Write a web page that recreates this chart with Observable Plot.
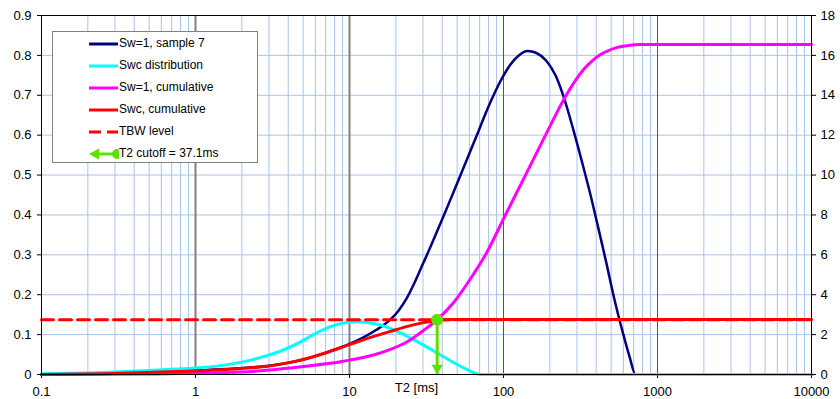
<!DOCTYPE html>
<html>
<head>
<meta charset="utf-8">
<script src="https://cdn.jsdelivr.net/npm/d3@7"></script>
<script src="https://cdn.jsdelivr.net/npm/@observablehq/plot@0.6"></script>
<style>
  body { margin: 0; background: #fff; font-family: "Liberation Sans", Arial, sans-serif; }
  #wrap { position: relative; width: 840px; height: 399px; }
  #legend { position: absolute; left: 52px; top: 31px; width: 206px; height: 132px; background: #fff; border: 1px solid #808080; box-sizing: border-box; }
  .lrow { position: absolute; left: 0; height: 22px; width: 205px; }
  .lrow svg { position: absolute; left: 30px; top: 0; }
  .lrow span { position: absolute; left: 66px; top: 3px; font-size: 12px; color: #000; white-space: nowrap; }
</style>
</head>
<body>
<div id="wrap"><div id="chart"></div><div id="legend"></div></div>
<script>
// ---- data ----
const xTicks = [0.1, 1, 10, 100, 1000, 10000];
const leftTicks = [0, 0.1, 0.2, 0.3, 0.4, 0.5, 0.6, 0.7, 0.8, 0.9];
const rightTicks = [0, 2, 4, 6, 8, 10, 12, 14, 16, 18];
const xLabel = "T2 [ms]";

const seriesNames = ["Sw=1, sample 7", "Swc distribution", "Sw=1, cumulative", "Swc, cumulative", "TBW level", "T2 cutoff = 37.1ms"];

// distributions (left axis)
const sample7T2 = [0.1, 0.2, 0.5, 1, 2, 3, 5, 7, 10, 12.15, 14.97, 18.46, 20.81, 23.45, 26.43, 29.79, 33.57, 37.84, 42.65, 48.06, 54.17, 61.05, 68.81, 77.55, 87.39, 98.51, 111, 125.1, 143.2, 163.8, 190.2, 217.6, 245.3, 284.8, 325.9, 372.8, 414, 466.6, 518, 592.6, 658, 719.6, 10000];
const sample7V = [0, 0.002, 0.005, 0.01, 0.016, 0.022, 0.037, 0.055, 0.077, 0.092, 0.112, 0.138, 0.16, 0.19, 0.23, 0.275, 0.32, 0.367, 0.415, 0.463, 0.512, 0.561, 0.61, 0.66, 0.705, 0.745, 0.777, 0.799, 0.811, 0.806, 0.786, 0.75, 0.697, 0.612, 0.528, 0.44, 0.365, 0.278, 0.198, 0.108, 0.045, 0, 0];

const swcDistT2 = [0.1, 0.2, 0.5, 0.84, 1, 1.38, 2.28, 2.89, 3.73, 4.81, 6.1, 7.53, 9.14, 11.1, 13.29, 15.9, 19.02, 23.45, 28.9, 37.84, 47.35, 57.5, 64.8, 70.9, 10000];
const swcDistV = [0.002, 0.004, 0.01, 0.0145, 0.016, 0.021, 0.036, 0.047, 0.062, 0.082, 0.104, 0.12, 0.129, 0.132, 0.13, 0.124, 0.113, 0.097, 0.078, 0.052, 0.03, 0.013, 0.004, 0, 0];

// cumulatives (right axis units)
const sw1CumT2 = [0.1, 0.5, 1, 2, 3, 5, 8.74, 10, 14.31, 18.46, 23.7, 30.38, 37.1, 48.06, 61.05, 76.4, 103, 139, 187.4, 255.4, 293.4, 332.3, 378.4, 426.6, 480.6, 547.4, 648.2, 775.5, 10000];
const sw1CumV = [0, 0.02, 0.06, 0.12, 0.22, 0.4, 0.64, 0.72, 0.98, 1.26, 1.64, 2.22, 2.75, 3.66, 4.8, 6.0, 8.0, 10.0, 12.0, 14.0, 14.75, 15.3, 15.74, 16.04, 16.24, 16.4, 16.5, 16.54, 16.54];

const swcCumT2 = [0.1, 0.2, 0.5, 1, 2, 3, 5, 7, 10, 13.69, 18.46, 23.45, 30.24, 37.84, 47.35, 61.05, 10000];
const swcCumV = [0, 0.02, 0.1, 0.18, 0.3, 0.42, 0.76, 1.08, 1.5, 1.86, 2.16, 2.4, 2.6, 2.72, 2.76, 2.76, 2.76];

const tbwLevel = 2.75;      // right axis units
const t2Cutoff = 37.1;      // ms
const minorMultipliers = [2, 3, 4, 5, 6, 7, 8, 9];

// ---- styles ----
const RATIO = 20; // right axis / left axis
const colors = { s7: "#000080", dist: "#00ffff", cum: "#ff00ff", swc: "#ff0000", tbw: "#ff0000", cut: "#5fe000" };

const toRows = (xs, ys, k = 1) => xs.map((x, i) => ({ x, y: ys[i] / k }));
const s7 = toRows(sample7T2, sample7V);
const dist = toRows(swcDistT2, swcDistV);
const cum = toRows(sw1CumT2, sw1CumV, RATIO);
const swc = toRows(swcCumT2, swcCumV, RATIO);
const tbw = [{ x: xTicks[0], y: tbwLevel / RATIO }, { x: xTicks[xTicks.length - 1], y: tbwLevel / RATIO }];
const cut = [{ x: t2Cutoff, y: tbwLevel / RATIO }];

const minorX = xTicks.slice(0, -1).flatMap(d => minorMultipliers.map(m => d * m));
const gridY = leftTicks.slice(1, -1);

const chart = Plot.plot({
  width: 840,
  height: 399,
  marginLeft: 41,
  marginRight: 29,
  marginTop: 15,
  marginBottom: 25,
  style: { fontFamily: "'Liberation Sans', Arial, sans-serif", fontSize: "13px", color: "#000", background: "#fff" },
  x: { type: "log", domain: [xTicks[0], xTicks[xTicks.length - 1]] },
  y: { domain: [0, 0.9] },
  marks: [
    Plot.ruleX(minorX, { stroke: "#a9c3e8", strokeWidth: 1 }),
    Plot.ruleY(gridY, { stroke: "#a9c3e8", strokeWidth: 1 }),
    Plot.ruleX(xTicks.slice(1, 3), { stroke: "#808080", strokeWidth: 2 }),
    Plot.ruleX(xTicks.slice(3, 5), { stroke: "#555", strokeWidth: 1 }),
    Plot.line(s7, { x: "x", y: "y", stroke: colors.s7, strokeWidth: 2.5, curve: "monotone-x" }),
    Plot.line(dist, { x: "x", y: "y", stroke: colors.dist, strokeWidth: 3, curve: "monotone-x" }),
    Plot.line(cum, { x: "x", y: "y", stroke: colors.cum, strokeWidth: 3, curve: "monotone-x" }),
    Plot.line(swc, { x: "x", y: "y", stroke: colors.swc, strokeWidth: 3, curve: "monotone-x" }),
    Plot.line(tbw, { x: "x", y: "y", stroke: colors.tbw, strokeWidth: 3, strokeDasharray: "12,6" }),
    Plot.ruleX(cut, { x: "x", y1: "y", y2: 0, stroke: colors.cut, strokeWidth: 3 }),
    Plot.dot(cut, { x: "x", y: 0, symbol: "triangle", r: 4.2, rotate: 180, dy: -6.5, fill: colors.cut, stroke: "none" }),
    Plot.dot(cut, { x: "x", y: "y", r: 6, fill: colors.cut, stroke: "none" }),
    Plot.frame({ stroke: "#000" }),
    Plot.axisX({ ticks: xTicks, tickFormat: d3.format("~g"), tickSize: 4, tickPadding: 8, label: null }),
    Plot.axisY({ ticks: leftTicks, tickFormat: d => d === 0 ? "0" : d3.format(".1f")(d), tickSize: 4, tickPadding: 6, label: null }),
    Plot.axisY({ anchor: "right", ticks: rightTicks.map(v => v / RATIO), tickFormat: d => String(Math.round(d * RATIO)), tickSize: 4, tickPadding: 5, label: null }),
    Plot.text([xLabel], { frameAnchor: "bottom", dx: -10, dy: 17, fill: "#000" })
  ]
});
document.getElementById("chart").appendChild(chart);

// legend (HTML overlay)
const legend = document.getElementById("legend");
const swatch = (i) => {
  const c = [colors.s7, colors.dist, colors.cum, colors.swc, colors.tbw, colors.cut][i];
  if (i === 4) return `<svg width="36" height="22"><line x1="6" x2="35" y1="11" y2="11" stroke="${c}" stroke-width="3" stroke-dasharray="12,6"/></svg>`;
  if (i === 5) return `<svg width="36" height="22"><line x1="14" x2="34" y1="11" y2="11" stroke="${c}" stroke-width="3"/><path d="M6,11 L16,5.5 L16,16.5 Z" fill="${c}"/><circle cx="34" cy="11" r="5" fill="${c}"/></svg>`;
  return `<svg width="36" height="22"><line x1="6" x2="35" y1="11" y2="11" stroke="${c}" stroke-width="3"/></svg>`;
};
seriesNames.forEach((name, i) => {
  const row = document.createElement("div");
  row.className = "lrow";
  row.style.top = (1 + i * 21.9) + "px";
  row.innerHTML = swatch(i) + `<span>${name}</span>`;
  legend.appendChild(row);
});
</script>
</body>
</html>
